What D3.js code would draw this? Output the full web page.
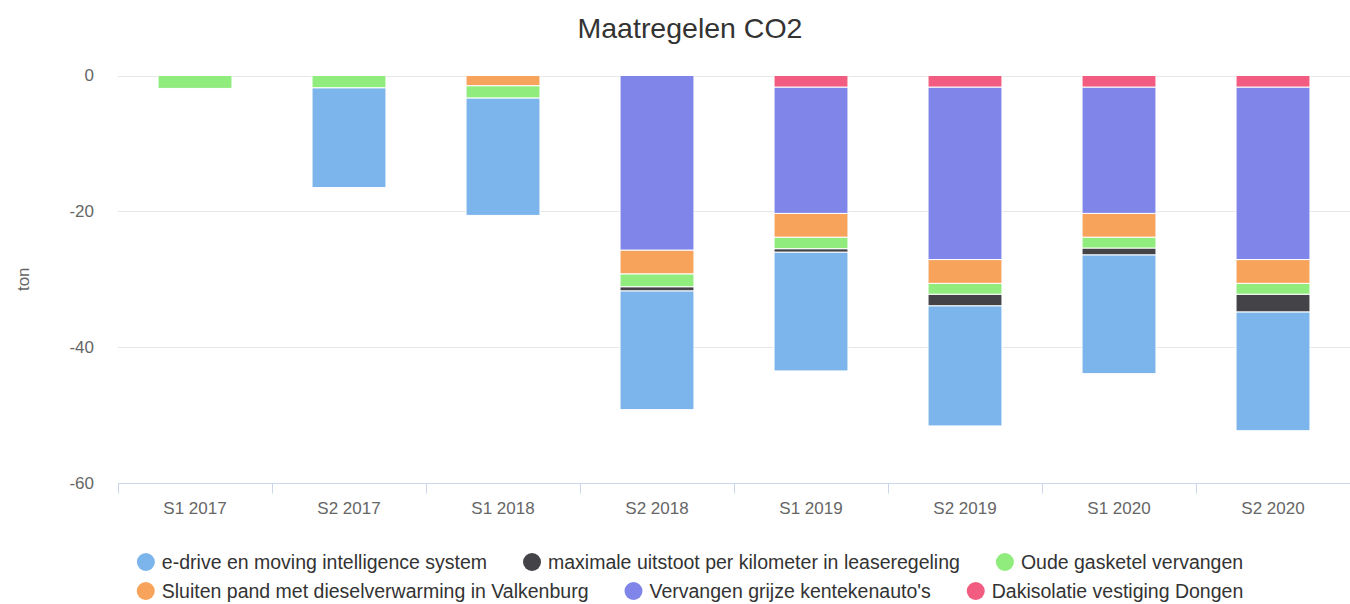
<!DOCTYPE html>
<html>
<head>
<meta charset="utf-8">
<script src="https://cdn.jsdelivr.net/npm/d3@7"></script>
<style>
  body { margin: 0; background: #fff; }
  #chart { width: 1350px; height: 604px; }
  text { font-family: "Liberation Sans", Arial, Helvetica, sans-serif; }
</style>
</head>
<body>
<div id="chart"></div>
<script>
// categories (half years)
const categories = ["S1 2017", "S2 2017", "S1 2018", "S2 2018", "S1 2019", "S2 2019", "S1 2020", "S2 2020"];

// series values in ton CO2 (negative = reduction)
const eDrive      = [0, -14.7, -17.3, -17.5, -17.5, -17.7, -17.5, -17.5];
const maximale    = [0, 0, 0, -0.6, -0.5, -1.7, -1.0, -2.6];
const oudeKetel   = [-1.9, -1.8, -1.8, -1.9, -1.7, -1.6, -1.6, -1.6];
const sluitenPand = [0, 0, -1.5, -3.5, -3.5, -3.5, -3.5, -3.5];
const vervangen   = [0, 0, 0, -25.7, -18.6, -25.4, -18.6, -25.4];
const dakisolatie = [0, 0, 0, 0, -1.7, -1.7, -1.7, -1.7];

const yTicks = [0, -20, -40, -60];

const series = [
  { name: "e-drive en moving intelligence system", values: eDrive, color: "#7cb5ec" },
  { name: "maximale uitstoot per kilometer in leaseregeling", values: maximale, color: "#434348" },
  { name: "Oude gasketel vervangen", values: oudeKetel, color: "#90ed7d" },
  { name: "Sluiten pand met dieselverwarming in Valkenburg", values: sluitenPand, color: "#f7a35c" },
  { name: "Vervangen grijze kentekenauto's", values: vervangen, color: "#8085e9" },
  { name: "Dakisolatie vestiging Dongen", values: dakisolatie, color: "#f15c80" }
];

const width = 1350, height = 604;
const margin = { left: 118, right: 0, top: 75.5, bottom: 121 };

const svg = d3.select("#chart").append("svg")
  .attr("width", width)
  .attr("height", height);

// table for d3.stack
const table = categories.map((c, i) => {
  const row = { cat: c };
  series.forEach(s => { row[s.name] = s.values[i]; });
  return row;
});

const stack = d3.stack()
  .keys(series.map(s => s.name))
  .order(d3.stackOrderReverse)
  .offset(d3.stackOffsetDiverging);
const stacked = stack(table);

const x = d3.scaleBand()
  .domain(categories)
  .range([margin.left, width - margin.right])
  .paddingInner(0.52)
  .paddingOuter(0.26);

const y = d3.scaleLinear()
  .domain([-60, 0])
  .range([height - margin.bottom, margin.top]);

// title
svg.append("text")
  .attr("x", 690)
  .attr("y", 38)
  .attr("text-anchor", "middle")
  .attr("fill", "#333")
  .attr("font-size", "28.5px")
  .text("Maatregelen CO2");

// grid
svg.append("g")
  .selectAll("line")
  .data(yTicks.filter(t => t !== -60))
  .enter()
  .append("line")
  .attr("x1", margin.left)
  .attr("x2", width - margin.right)
  .attr("y1", d => Math.round(y(d)) + 0.5)
  .attr("y2", d => Math.round(y(d)) + 0.5)
  .attr("stroke", "#e6e6e6");

// y axis labels
const yAxis = svg.append("g")
  .attr("transform", `translate(${margin.left},0)`)
  .call(d3.axisLeft(y).tickValues(yTicks).tickFormat(d => String(d)).tickSize(0).tickPadding(24));
yAxis.select(".domain").remove();
yAxis.selectAll("text")
  .attr("fill", "#666")
  .attr("font-size", "17px")
  .style("font-family", '"Liberation Sans", Arial, sans-serif');

svg.append("text")
  .attr("transform", `translate(29,${(margin.top + height - margin.bottom) / 2}) rotate(-90)`)
  .attr("text-anchor", "middle")
  .attr("fill", "#666")
  .attr("font-size", "17px")
  .text("ton");

// bars
svg.append("g")
  .selectAll("g")
  .data(stacked)
  .enter()
  .append("g")
  .attr("fill", d => series.find(s => s.name === d.key).color)
  .selectAll("rect")
  .data(d => d.filter(p => p[1] - p[0] !== 0))
  .enter()
  .append("rect")
  .attr("x", d => x(d.data.cat))
  .attr("width", x.bandwidth())
  .attr("y", d => y(d[1]))
  .attr("height", d => y(d[0]) - y(d[1]))
  .attr("stroke", "#fff")
  .attr("stroke-width", 1);

// x axis
const xStep = x.step();
const xAxis = svg.append("g")
  .attr("transform", `translate(0,${Math.round(y(-60)) + 0.5})`);
xAxis.append("line")
  .attr("x1", margin.left)
  .attr("x2", width - margin.right)
  .attr("stroke", "#ccd6eb");
xAxis.selectAll(".tick")
  .data(d3.range(categories.length + 1))
  .enter()
  .append("line")
  .attr("x1", i => Math.round(margin.left + i * xStep) + 0.5)
  .attr("x2", i => Math.round(margin.left + i * xStep) + 0.5)
  .attr("y1", 0)
  .attr("y2", 10)
  .attr("stroke", "#ccd6eb");
xAxis.selectAll(".lbl")
  .data(categories)
  .enter()
  .append("text")
  .attr("x", d => x(d) + x.bandwidth() / 2)
  .attr("y", 30)
  .attr("text-anchor", "middle")
  .attr("fill", "#666")
  .attr("font-size", "17px")
  .text(d => d);

// legend: two rows, each centered
const legendRows = [series.slice(0, 3), series.slice(3)];
const legendY = [562, 591];
const legend = svg.append("g");
legendRows.forEach((row, r) => {
  const g = legend.append("g");
  let cx = 0;
  row.forEach(s => {
    const item = g.append("g").attr("transform", `translate(${cx},0)`);
    item.append("circle")
      .attr("cx", 9)
      .attr("cy", 0)
      .attr("r", 9)
      .attr("fill", s.color);
    const t = item.append("text")
      .attr("x", 25)
      .attr("y", 7)
      .attr("fill", "#333")
      .attr("font-size", "19.5px")
      .text(s.name);
    cx += 25 + t.node().getComputedTextLength() + 36;
  });
  const total = cx - 36;
  g.attr("transform", `translate(${690 - total / 2},${legendY[r]})`);
});
</script>
</body>
</html>
